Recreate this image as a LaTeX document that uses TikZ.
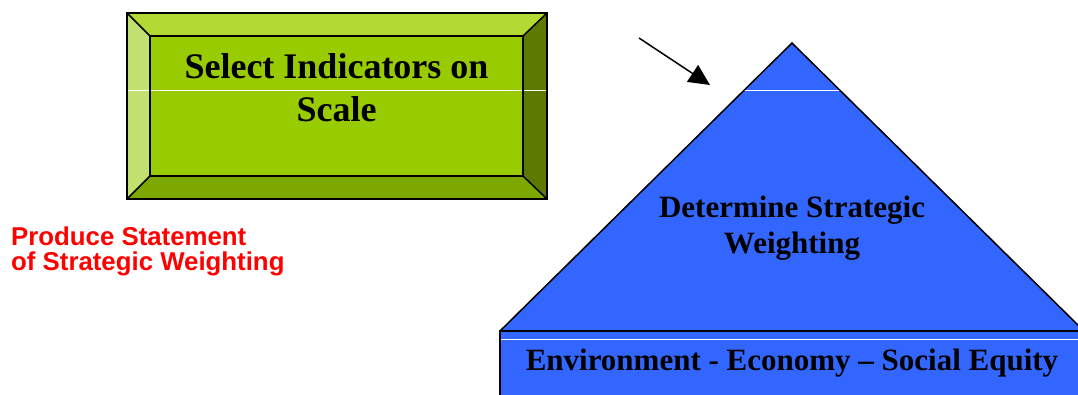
\documentclass[tikz,border=0pt]{standalone}
\usepackage{fontspec}
\setmainfont{Liberation Serif}
\newfontfamily\arialfont{Liberation Sans}
\usetikzlibrary{arrows.meta}
\definecolor{gmid}{HTML}{99CC00}
\definecolor{gtop}{HTML}{B2D934}
\definecolor{gleft}{HTML}{C2E070}
\definecolor{gright}{HTML}{5C7A00}
\definecolor{gbot}{HTML}{7DA800}
\definecolor{pblue}{HTML}{3366FF}
\definecolor{pred}{HTML}{FF0000}
\tikzset{
  edge/.style={draw=black, line width=1.5pt, line join=miter},
  boxtxt/.style={font=\fontsize{36}{43}\selectfont\bfseries, inner sep=0pt, anchor=base},
  pyrtxt/.style={font=\fontsize{31}{36}\selectfont\bfseries, inner sep=0pt, anchor=base},
  redtxt/.style={font=\arialfont\fontsize{25.8}{25}\selectfont\bfseries, text=pred, inner sep=0pt, anchor=base west},
  sheen/.style={draw=white, line width=1pt}
}
\begin{document}
\begin{tikzpicture}[x=1pt,y=-1pt]
\useasboundingbox (0,0) rectangle (1078,394);
% bevel box corners
\coordinate (oTL) at (127,13);
\coordinate (oTR) at (547,13);
\coordinate (oBR) at (547,199);
\coordinate (oBL) at (127,199);
\coordinate (iTL) at (150,36);
\coordinate (iTR) at (523,36);
\coordinate (iBR) at (523,176);
\coordinate (iBL) at (150,176);
\fill[gtop] (oTL) -- (oTR) -- (iTR) -- (iTL) -- cycle;
\fill[gleft] (oTL) -- (iTL) -- (iBL) -- (oBL) -- cycle;
\fill[gright] (oTR) -- (oBR) -- (iBR) -- (iTR) -- cycle;
\fill[gbot] (oBL) -- (iBL) -- (iBR) -- (oBR) -- cycle;
\fill[gmid] (iTL) rectangle (iBR);
\coordinate (sL) at (127,90);
\coordinate (sR) at (547,90);
\draw[sheen] (sL) -- (sR);
\draw[edge] (oTL) rectangle (oBR);
\draw[edge] (iTL) rectangle (iBR);
\draw[edge] (oTL) -- (iTL) (oTR) -- (iTR) (oBR) -- (iBR) (oBL) -- (iBL);
\node[boxtxt] (sel1) at (336.5,78) {Select Indicators on};
\node[boxtxt] (sel2) at (336.5,121) {Scale};
% pyramid
\coordinate (apex) at (792,43);
\coordinate (bl) at (500,331);
\coordinate (br) at (1084,331);
\fill[pblue] (bl) rectangle (1090,400);
\fill[pblue] (apex) -- (br) -- (bl) -- cycle;
\coordinate (tsL) at (744.3,90);
\coordinate (tsR) at (839.7,90);
\draw[sheen] (tsL) -- (tsR);
\coordinate (bsL) at (501,339);
\coordinate (bsR) at (1090,339);
\draw[sheen] (bsL) -- (bsR);
\draw[edge] (bl) -- (apex) -- (br);
\draw[draw=black, line width=2pt] (1090,331) -- (bl) -- (500,400);
\node[pyrtxt] (det1) at (792,217) {Determine Strategic};
\node[pyrtxt] (det2) at (792,253) {Weighting};
\node[pyrtxt] (eco) at (792,370) {Environment - Economy – Social Equity};
% arrow
\coordinate (aS) at (639,38);
\coordinate (aE) at (710,85);
\draw[line width=1.5pt, -{Triangle[length=21pt,width=20pt]}] (aS) -- (aE);
% red label
\node[redtxt] (prod1) at (11,245) {Produce Statement};
\node[redtxt] (prod2) at (11,270) {of Strategic Weighting};
\end{tikzpicture}
\end{document}
